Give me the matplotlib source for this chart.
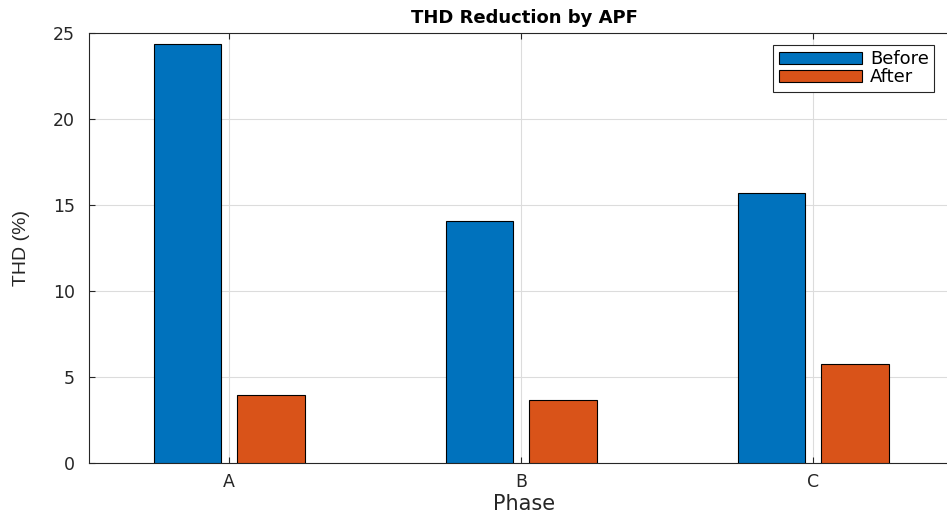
"""THD before/after APF grouped bar chart (MATLAB-like styling)."""

import numpy as np
import matplotlib
matplotlib.use("Agg")
import matplotlib.pyplot as plt

phases = ["A", "B", "C"]
thd_before = [24.35, 14.07, 15.70]
thd_after = [3.93, 3.66, 5.73]

# wide-looking glyphs like the (horizontally stretched) reference
plt.rcParams["font.family"] = ["DejaVu Sans"]
text_col = "#262626"

fig = plt.figure(figsize=(9.47, 5.17), dpi=100)
ax = fig.add_axes([0.094, 0.1044, 0.919, 0.8318])

x = np.arange(1, len(phases) + 1)
w = 0.23
off = 0.143
ax.bar(x - off, thd_before, w, color="#0072BD", edgecolor="black", linewidth=0.8,
       label="Before", zorder=3)
ax.bar(x + off, thd_after, w, color="#D95319", edgecolor="black", linewidth=0.8,
       label="After", zorder=3)

ax.set_xlim(0.52, 3.5)
ax.set_ylim(0, 25)
ax.set_xticks(x)
ax.set_xticklabels(phases)
ax.set_yticks([0, 5, 10, 15, 20, 25])

ax.grid(True, color="#dcdcdc", linewidth=0.8, zorder=0)
ax.set_axisbelow(True)
ax.tick_params(direction="in", top=True, right=True, length=4, width=0.8,
               colors=text_col, labelsize=12.5)
ax.tick_params(axis="y", pad=10)
ax.tick_params(axis="x", pad=7)
for sp in ax.spines.values():
    sp.set_color(text_col)
    sp.set_linewidth(0.8)

ax.set_title("THD Reduction by APF", fontsize=13, fontweight="bold", color="black", pad=7)
ax.set_xlabel("Phase", fontsize=15, color=text_col, labelpad=2)
ax.set_ylabel("THD (%)", fontsize=14, color=text_col, labelpad=17,
              family="Liberation Sans")

leg = ax.legend(loc="upper right", bbox_to_anchor=(0.971, 0.972), borderaxespad=0,
                fontsize=13, handlelength=4.6, handleheight=0.7, handletextpad=0.45,
                borderpad=0.3, labelspacing=0.0, fancybox=False, framealpha=1)
leg.get_frame().set_edgecolor(text_col)
leg.get_frame().set_linewidth(0.8)

fig.savefig("out.png", dpi=100)
plt.close(fig)
